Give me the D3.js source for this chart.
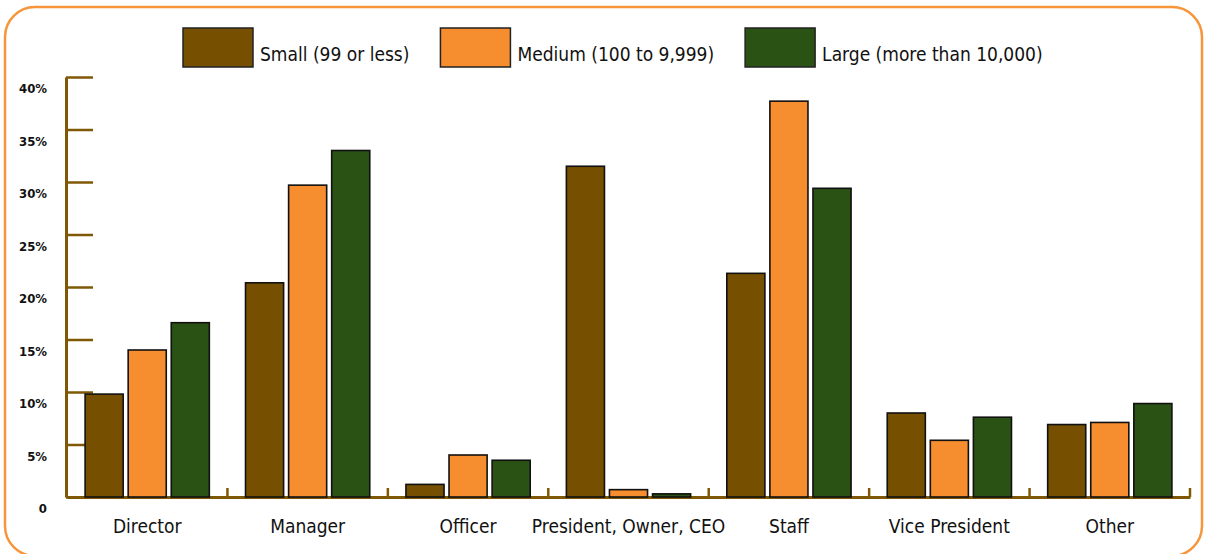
<!DOCTYPE html>
<html>
<head>
<meta charset="utf-8">
<script src="https://cdn.jsdelivr.net/npm/d3@7"></script>
<style>
  html, body { margin: 0; padding: 0; background: #fff; }
  svg { display: block; }
  text { font-family: "Liberation Sans Narrow", "DejaVu Sans Condensed", "Arial Narrow", sans-serif; font-stretch: condensed; fill: #111; }
</style>
</head>
<body>
<div id="vis"></div>
<script>
// Datos (porcentajes)
const CATEGORIAS = ["Director", "Manager", "Officer", "President, Owner, CEO", "Staff", "Vice President", "Other"];
const SERIES = ["Small (99 or less)", "Medium (100 to 9,999)", "Large (more than 10,000)"];
const SMALL = [9.8, 20.4, 1.2, 31.5, 21.3, 8.0, 6.9];
const MEDIUM = [14.0, 29.7, 4.0, 0.7, 37.7, 5.4, 7.1];
const LARGE = [16.6, 33.0, 3.5, 0.3, 29.4, 7.6, 8.9];
const TICKS_Y = [0, 5, 10, 15, 20, 25, 30, 35, 40];

const COLORES = ["#765000", "#f68d2e", "#2a5214"];
const COLOR_EJE = "#7f5806";

const WIDTH = 1206;
const HEIGHT = 554;
const MARGIN = { top: 77, bottom: 57, left: 67, right: 16 };

const SVG = d3.select("#vis").append("svg")
    .attr("width", WIDTH)
    .attr("height", HEIGHT);

// Marco naranjo redondeado
SVG.append("rect")
    .attr("x", 5).attr("y", 7)
    .attr("width", 1197).attr("height", 549)
    .attr("rx", 30).attr("ry", 30)
    .attr("fill", "none")
    .attr("stroke", "#f7953b")
    .attr("stroke-width", 2.5);

const escalaX = d3.scaleBand()
    .domain(CATEGORIAS)
    .range([MARGIN.left, WIDTH - MARGIN.right])
    .padding(0);

const escalaSerie = d3.scaleBand()
    .domain(SERIES)
    .range([0, escalaX.bandwidth()])
    .paddingInner(0.116)
    .paddingOuter(0.42);

const escalaY = d3.scaleLinear()
    .domain([0, 40])
    .range([HEIGHT - MARGIN.bottom, MARGIN.top]);

const escalaColor = d3.scaleOrdinal(SERIES, COLORES);

const datos = CATEGORIAS.map((c, i) => ({
    categoria: c,
    valores: [SMALL[i], MEDIUM[i], LARGE[i]].map((v, j) => ({ serie: SERIES[j], valor: v }))
}));

// Eje Y (ticks hacia adentro, etiquetas a la izquierda un poco mas abajo)
const ejeY = SVG.append("g")
    .attr("transform", `translate(${MARGIN.left - 1},0)`)
    .call(d3.axisLeft(escalaY)
        .tickValues(TICKS_Y)
        .tickSize(-27)
        .tickSizeOuter(0)
        .tickPadding(19)
        .tickFormat(d => d === 0 ? "0" : d + "%"));
ejeY.select(".domain").attr("stroke", COLOR_EJE).attr("stroke-width", 3);
ejeY.selectAll(".tick line").attr("stroke", COLOR_EJE).attr("stroke-width", 2.5);
ejeY.selectAll(".tick text")
    .attr("dy", "1.2em")
    .style("font-size", "13px")
    .style("font-weight", "bold")
    .style("fill", "#111");

// Linea base del eje X
const ejeX = SVG.append("g")
    .attr("transform", `translate(0,${escalaY(0)})`)
    .call(d3.axisBottom(escalaX).tickSize(0).tickPadding(23).tickSizeOuter(0));
ejeX.select(".domain").attr("stroke", COLOR_EJE).attr("stroke-width", 3);
ejeX.selectAll(".tick text")
    .style("font-size", "19px")
    .style("fill", "#111");

// Marcas pequeñas entre categorias
SVG.append("g")
    .selectAll("line")
    .data(CATEGORIAS)
    .join("line")
    .attr("x1", d => escalaX(d) + escalaX.bandwidth())
    .attr("x2", d => escalaX(d) + escalaX.bandwidth())
    .attr("y1", escalaY(0))
    .attr("y2", escalaY(0) - 9)
    .attr("stroke", COLOR_EJE)
    .attr("stroke-width", 2.5);

// Barras
SVG.append("g")
    .selectAll("g.grupo")
    .data(datos)
    .join("g")
    .attr("class", "grupo")
    .attr("transform", d => `translate(${escalaX(d.categoria)},0)`)
    .selectAll("rect")
    .data(d => d.valores)
    .join("rect")
    .attr("x", d => escalaSerie(d.serie))
    .attr("y", d => escalaY(d.valor))
    .attr("width", escalaSerie.bandwidth())
    .attr("height", d => escalaY(0) - escalaY(d.valor))
    .attr("fill", d => escalaColor(d.serie))
    .attr("stroke", "#111")
    .attr("stroke-width", 1.6);

// Leyenda
const leyenda = SVG.append("g");
let xLeyenda = 183;
SERIES.forEach(s => {
    const item = leyenda.append("g").attr("transform", `translate(${xLeyenda},28)`);
    item.append("rect")
        .attr("width", 70).attr("height", 39)
        .attr("fill", escalaColor(s))
        .attr("stroke", "#222")
        .attr("stroke-width", 1.5);
    const t = item.append("text")
        .attr("x", 77).attr("y", 26)
        .attr("dy", "0.35em")
        .style("font-size", "19px")
        .text(s);
    xLeyenda += 77 + t.node().getComputedTextLength() + 31;
});
</script>
</body>
</html>
